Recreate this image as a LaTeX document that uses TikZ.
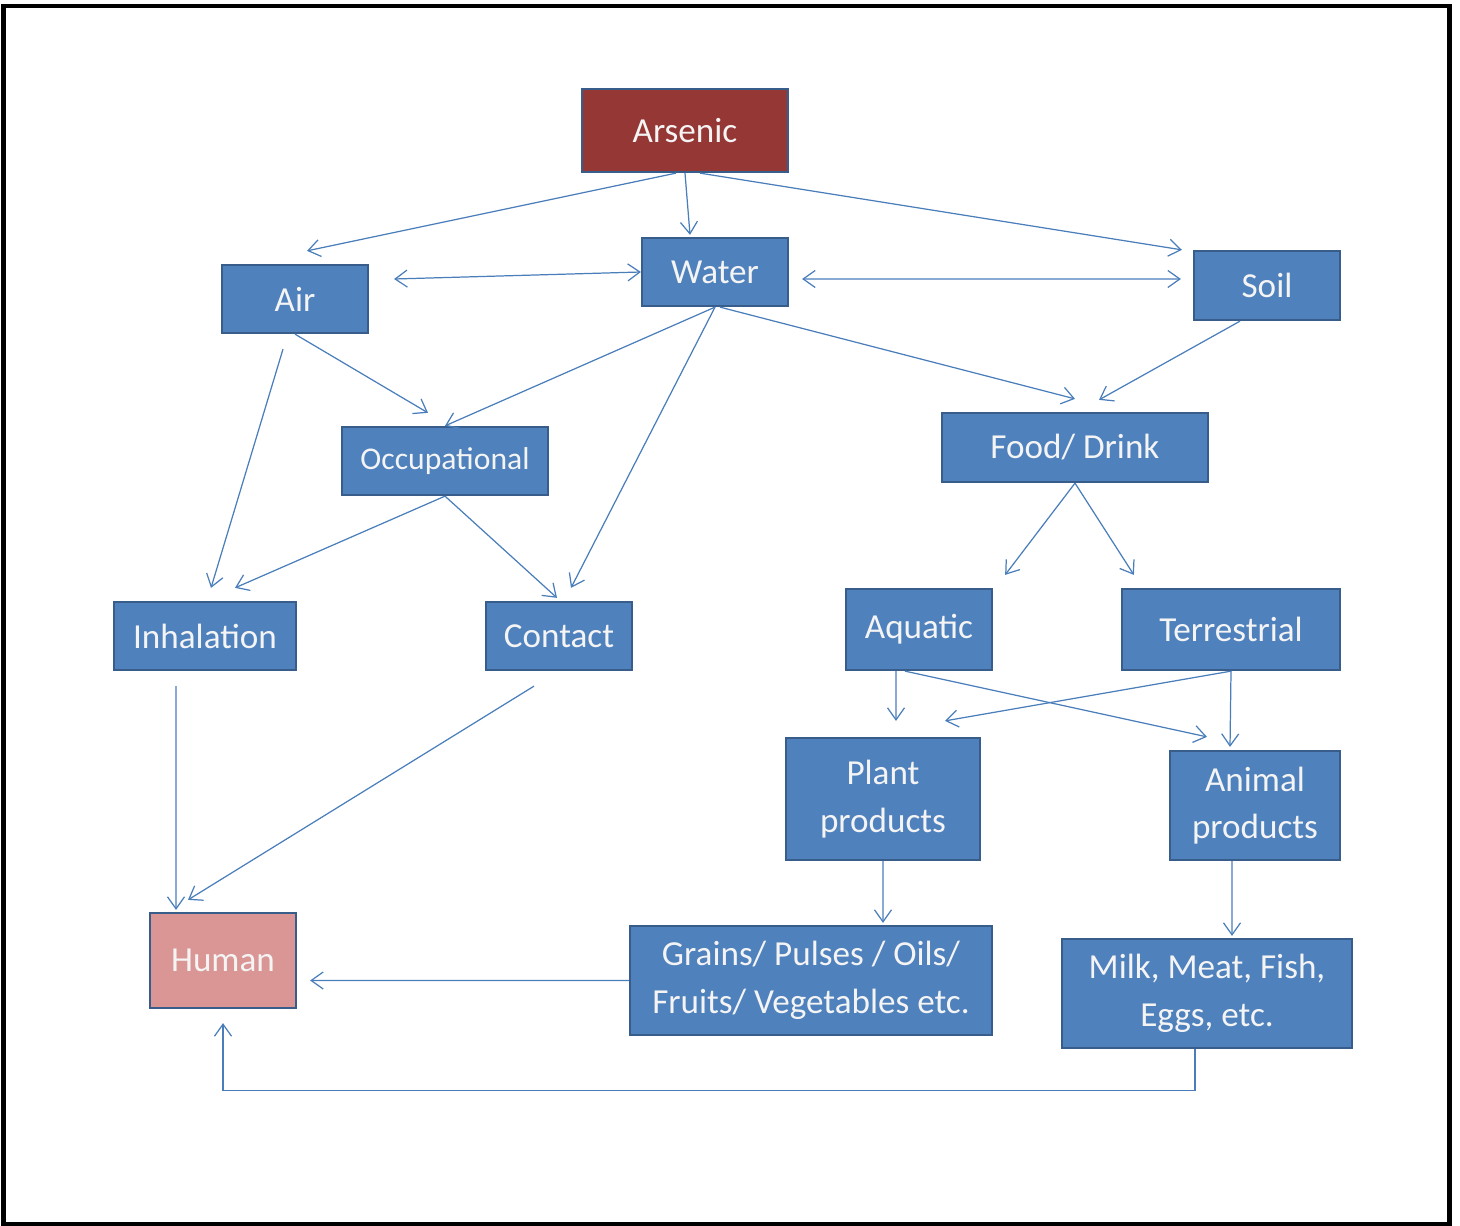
\documentclass[tikz,border=0pt]{standalone}
\usepackage{fontspec}
\setmainfont{Carlito}
\usetikzlibrary{arrows.meta}
\definecolor{boxblue}{HTML}{4F81BD}
\definecolor{boxline}{HTML}{385D8A}
\definecolor{arsred}{HTML}{953735}
\definecolor{humanpink}{HTML}{D99694}
\definecolor{linkblue}{HTML}{4A7EBB}
\definecolor{boxtext}{HTML}{F4F4F4}
\begin{document}
\begin{tikzpicture}[x=0.02cm,y=-0.02cm,
	box/.style={draw=boxline,line width=1.3pt,fill=boxblue,inner sep=0pt,
		text=boxtext,align=center,font=\fontsize{20}{27}\selectfont},
	conn/.style={draw=linkblue,line width=0.7pt,-{Straight Barb[length=2.4mm,width=3.4mm]}},
	both/.style={conn,{Straight Barb[length=2.4mm,width=3.4mm]}-{Straight Barb[length=2.4mm,width=3.4mm]}}]
	\useasboundingbox (0,0) rectangle (1460,1226);
	\draw[line width=2.8pt] (3.5,6) rectangle (1449.5,1224);
	% sources
	\node[box,fill=arsred,minimum width=4.12cm,minimum height=1.66cm] (arsenic) at (685,130.5) {Arsenic};
	\node[box,minimum width=2.92cm,minimum height=1.36cm] (air) at (295,299) {Air};
	\node[box,minimum width=2.92cm,minimum height=1.36cm] (water) at (715,272) {Water};
	\node[box,minimum width=2.92cm,minimum height=1.38cm] (soil) at (1267,285.5) {Soil};
	% routes
	\node[box,minimum width=4.12cm,minimum height=1.36cm,font=\fontsize{18}{24}\selectfont] (occup) at (445,461) {Occupational};
	\node[box,minimum width=5.32cm,minimum height=1.38cm] (food) at (1075,447.5) {Food/ Drink};
	\node[box,minimum width=3.64cm,minimum height=1.36cm] (inhal) at (205,636) {Inhalation};
	\node[box,minimum width=2.92cm,minimum height=1.36cm] (contact) at (559,636) {Contact};
	\node[box,minimum width=2.92cm,minimum height=1.62cm] (aquatic) at (919,629.5) {Aquatic};
	\node[box,minimum width=4.36cm,minimum height=1.62cm] (terr) at (1231,629.5) {Terrestrial};
	\node[box,minimum width=3.88cm,minimum height=2.44cm] (plant) at (883,799) {Plant\\products};
	\node[box,minimum width=3.40cm,minimum height=2.18cm] (animal) at (1255,805.5) {Animal\\products};
	\node[box,minimum width=7.24cm,minimum height=2.18cm] (grains) at (811,980.5) {Grains/ Pulses / Oils/\\Fruits/ Vegetables etc.};
	\node[box,minimum width=5.80cm,minimum height=2.18cm] (milk) at (1207,993.5) {Milk, Meat, Fish,\\Eggs, etc.};
	\node[box,fill=humanpink,minimum width=2.92cm,minimum height=1.90cm] (human) at (223,960.5) {Human};
	% arsenic to the media
	\draw[conn] ([xshift=-1.8mm]arsenic.south) -- ([xshift=2.4mm,yshift=2.6mm]air.north);
	\draw[conn] (arsenic.south) -- ([xshift=-5mm,yshift=0.4mm]water.north);
	\draw[conn] ([xshift=3mm]arsenic.south) -- ([xshift=-2.2mm]soil.north west);
	\draw[both] ([xshift=5mm,yshift=4mm]air.east) -- (water.west);
	\draw[both] ([xshift=2.6mm,yshift=-1.4mm]water.east) -- ([xshift=-2.4mm,yshift=1.3mm]soil.west);
	% media to routes
	\draw[conn] (air.south) -- ([xshift=-3.4mm,yshift=2.6mm]occup.north);
	\draw[conn] ([xshift=-2.4mm,yshift=-3mm]air.south) -- ([xshift=1.2mm,yshift=2.6mm]inhal.north);
	\draw[conn] (water.south) -- (occup.north);
	\draw[conn] (water.south) -- ([xshift=2.4mm,yshift=2.6mm]contact.north);
	\draw[conn] ([xshift=1mm]water.south) -- ([yshift=2.6mm]food.north);
	\draw[conn] ([xshift=-5.4mm]soil.south) -- ([xshift=4.8mm,yshift=2.4mm]food.north);
	\draw[conn] (occup.south) -- ([xshift=6mm,yshift=2.6mm]inhal.north);
	\draw[conn] (occup.south) -- ([xshift=-0.4mm,yshift=0.6mm]contact.north);
	% food chain
	\draw[conn] (food.south) -- ([xshift=2.4mm,yshift=2.6mm]aquatic.north east);
	\draw[conn] (food.south) -- ([xshift=2.6mm,yshift=2.6mm]terr.north west);
	\draw[conn] ([xshift=-4.6mm]aquatic.south) -- ([xshift=2.6mm,yshift=3.2mm]plant.north);
	\draw[conn] ([xshift=-2.8mm]aquatic.south) -- ([xshift=-9.6mm,yshift=2.6mm]animal.north);
	\draw[conn] (terr.south) -- ([xshift=12.4mm,yshift=3.2mm]plant.north);
	\draw[conn] (terr.south) -- ([xshift=-5mm,yshift=0.6mm]animal.north);
	\draw[conn] (plant.south) -- ([xshift=14.4mm,yshift=0.4mm]grains.north);
	\draw[conn] ([xshift=-4.6mm]animal.south) -- ([xshift=5mm,yshift=0.4mm]milk.north);
	% to human
	\draw[conn] ([xshift=-5.8mm,yshift=-3mm]inhal.south) -- ([xshift=-9.4mm,yshift=0.4mm]human.north);
	\draw[conn] ([xshift=-5mm,yshift=-3mm]contact.south) -- ([xshift=-7mm,yshift=2.4mm]human.north);
	\draw[conn] (grains.west) -- ([xshift=2.6mm,yshift=-4mm]human.east);
	\draw[conn] ([xshift=-2.4mm]milk.south) -- ++(0,41) -| ([yshift=-2.8mm]human.south);
\end{tikzpicture}
\end{document}
